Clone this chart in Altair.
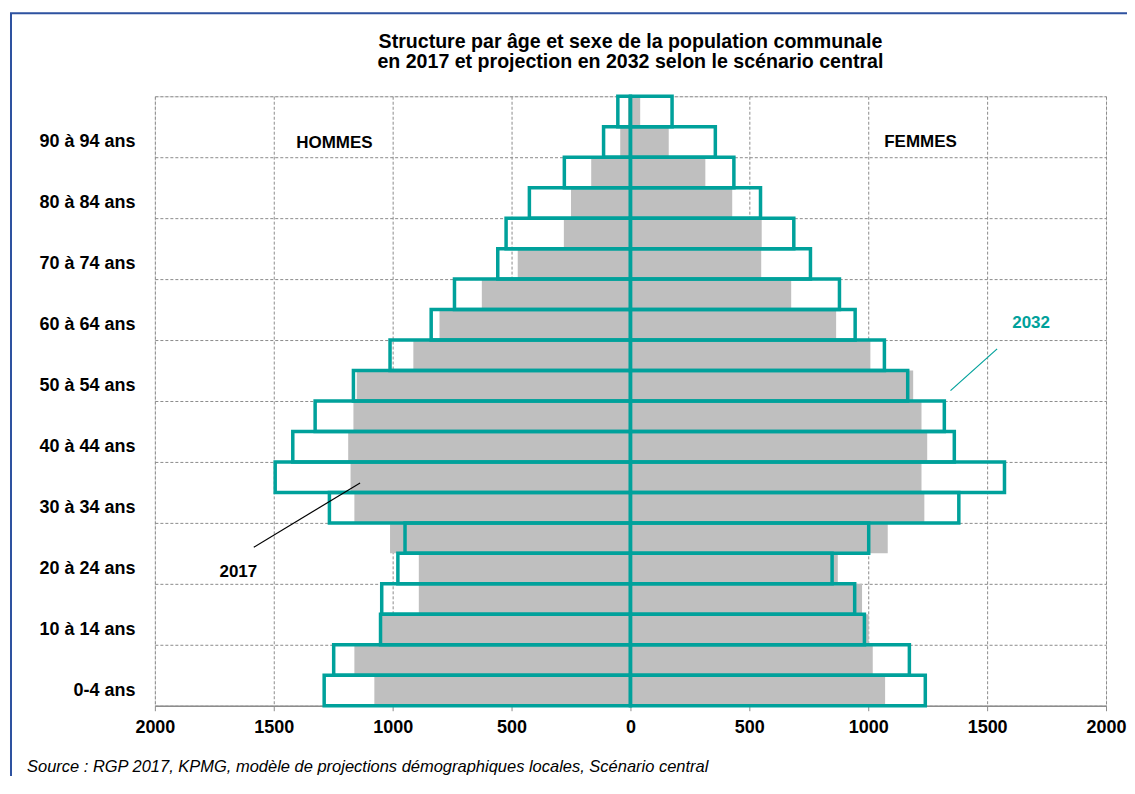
import altair as alt
import pandas as pd
import json

# ---------------- data ----------------
age_groups = ["0-4", "5-9", "10-14", "15-19", "20-24", "25-29", "30-34", "35-39",
              "40-44", "45-49", "50-54", "55-59", "60-64", "65-69", "70-74",
              "75-79", "80-84", "85-89", "90-94", "95+"]
tick_labels = ["0-4 ans", "10 à 14 ans", "20 à 24 ans", "30 à 34 ans", "40 à 44 ans",
               "50 à 54 ans", "60 à 64 ans", "70 à 74 ans", "80 à 84 ans", "90 à 94 ans"]

hommes_2017 = [1077, 1161, 1048, 890, 890, 1011, 1161, 1177, 1187, 1165,
               1151, 913, 803, 625, 474, 280, 250, 165, 43, 10]
hommes_2032 = [1288, 1248, 1051, 1046, 978, 948, 1266, 1494, 1420, 1326,
               1165, 1011, 838, 740, 558, 523, 425, 278, 113, 53]
femmes_2017 = [1071, 1019, 1002, 974, 872, 1082, 1236, 1224, 1248, 1224,
               1189, 1009, 865, 676, 550, 552, 428, 315, 161, 41]
femmes_2032 = [1240, 1173, 984, 943, 848, 1002, 1381, 1573, 1362, 1320,
               1166, 1068, 945, 879, 757, 687, 547, 435, 357, 175]

x_ticks = [-2000, -1500, -1000, -500, 0, 500, 1000, 1500, 2000]

ann_text = ["HOMMES", "FEMMES", "2032", "2017"]
ann_x = [-1245, 1220, 1685, -1649]
ann_y = [18.45, 18.5, 12.55, 4.4]
ann_color = ["#000000", "#000000", "#00a19b", "#000000"]

lead_x = [1542, -1584]
lead_y = [11.71, 5.20]
lead_x2 = [1346, -1137]
lead_y2 = [10.34, 7.31]
lead_color = ["#00a19b", "#000000"]

title_line1 = "Structure par âge et sexe de la population communale"
title_line2 = "en 2017 et projection en 2032 selon le scénario central"
source_text = "Source : RGP 2017, KPMG, modèle de projections  démographiques  locales, Scénario central"

# ---------------- tables ----------------
rows = []
for i, a in enumerate(age_groups):
    rows.append({"age": a, "i": i, "year": "2017", "v": -hommes_2017[i]})
    rows.append({"age": a, "i": i, "year": "2017", "v": femmes_2017[i]})
    rows.append({"age": a, "i": i, "year": "2032", "v": -hommes_2032[i]})
    rows.append({"age": a, "i": i, "year": "2032", "v": femmes_2032[i]})
df = pd.DataFrame(rows)

ann = pd.DataFrame({"text": ann_text, "x": ann_x, "y": ann_y, "c": ann_color})
leads = pd.DataFrame({"x": lead_x, "y": lead_y, "x2": lead_x2, "y2": lead_y2, "c": lead_color})

FONT = "Liberation Sans"
TEAL = "#00a19b"
GRID = "#8c8c8c"

label_arr = json.dumps(tick_labels, ensure_ascii=False)
y_label_expr = f"(datum.value % 2 == 0 && datum.value < 20) ? {label_arr}[datum.value / 2] : ''"

x_scale = alt.Scale(domain=[-2000, 2000], nice=False, zero=False)
y_scale = alt.Scale(domain=[0, 20], nice=False, zero=False)

x_axis = alt.Axis(values=x_ticks, labelExpr="abs(datum.value)", title=None,
                  grid=True, gridDash=[3, 2], gridColor=GRID, gridWidth=1,
                  domain=True, domainColor="#8c8c8c", domainWidth=1.5,
                  ticks=True, tickSize=5, tickColor="#8c8c8c",
                  labelFont=FONT, labelFontSize=18, labelFontWeight="bold",
                  labelColor="#000000", labelPadding=8, labelFlush=False,
                  labelOverlap=False)
y_axis = alt.Axis(values=list(range(0, 21)), labelExpr=y_label_expr, title=None,
                  grid=True, gridDash=[3, 2], gridColor=GRID, gridWidth=1,
                  domain=False, ticks=False, labelOffset=-15.25,
                  labelFont=FONT, labelFontSize=18, labelFontWeight="bold",
                  labelColor="#000000", labelPadding=20, labelFlush=False,
                  labelOverlap=False, labelBound=False)

base = alt.Chart(df).transform_calculate(i1="datum.i + 1")

bars_2017 = base.transform_filter(alt.datum.year == "2017").mark_rect(
    color="#bfbfbf"
).encode(
    x=alt.X("v:Q", scale=x_scale, axis=x_axis),
    x2=alt.datum(0),
    y=alt.Y("i:Q", scale=y_scale, axis=y_axis),
    y2="i1:Q",
)

bars_2032 = base.transform_filter(alt.datum.year == "2032").mark_rect(
    fill="transparent", stroke=TEAL, strokeWidth=3.5
).encode(
    x=alt.X("v:Q", scale=x_scale),
    x2=alt.datum(0),
    y=alt.Y("i:Q", scale=y_scale),
    y2="i1:Q",
)

texts = alt.Chart(ann).mark_text(
    font=FONT, fontSize=17, fontWeight="bold", align="center", baseline="middle"
).encode(
    x=alt.X("x:Q", scale=x_scale),
    y=alt.Y("y:Q", scale=y_scale),
    text="text:N",
    color=alt.Color("c:N", scale=None),
)

lead_lines = alt.Chart(leads).mark_rule(strokeWidth=1.2).encode(
    x=alt.X("x:Q", scale=x_scale),
    y=alt.Y("y:Q", scale=y_scale),
    x2="x2:Q",
    y2="y2:Q",
    color=alt.Color("c:N", scale=None),
)

def free_text(t, x, y, **kw):
    return alt.Chart(pd.DataFrame({"t": [t]})).mark_text(font=FONT, color="#000000", **kw).encode(
        x=alt.value(x), y=alt.value(y), text="t:N")

title1 = free_text(title_line1, 476, -54, fontSize=19.6, fontWeight="bold",
                   align="center", baseline="middle")
title2 = free_text(title_line2, 476, -34, fontSize=19.6, fontWeight="bold",
                   align="center", baseline="middle")
source = free_text(source_text, -128, 671, fontSize=16.5, fontStyle="italic",
                   align="left", baseline="middle")

frame = alt.Chart(pd.DataFrame({"k": [0]})).mark_rect(
    fill="transparent", stroke="#2e52a0", strokeWidth=2
).encode(
    x=alt.value(-144), x2=alt.value(1000),
    y=alt.value(-83), y2=alt.value(800),
)

chart = alt.layer(bars_2017, bars_2032, lead_lines, texts, title1, title2, source, frame).properties(
    width=952,
    height=610,
    autosize=alt.AutoSizeParams(type="none"),
    padding={"left": 147, "top": 88, "right": 21, "bottom": 70},
).configure_view(
    fill="#f2f2f2", stroke="transparent"
).configure(background="#ffffff")

chart.save("out.html", embed_options={"renderer": "svg", "actions": False})
